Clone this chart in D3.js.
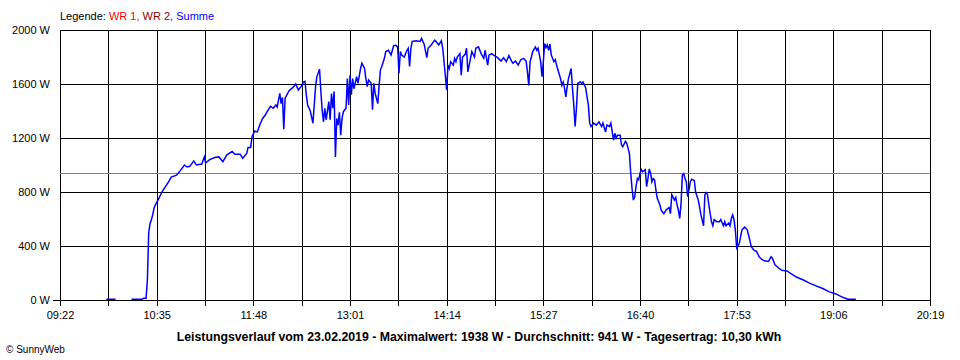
<!DOCTYPE html>
<html>
<head>
<meta charset="utf-8">
<script src="https://cdn.jsdelivr.net/npm/d3@7"></script>
<style>
  body { margin: 0; background: #fff; }
  svg { display: block; font-family: "Liberation Sans", Arial, sans-serif; }
</style>
</head>
<body>
<div class="chart"></div>
<script>
// Leistungsverlauf 23.02.2019 (SunnyWeb)

// time of each reading, null value = no data (gap)
const TIMES = [
  '09:57','10:04','10:10',
  '10:16','10:24','10:25','10:27','10:28','10:29','10:30','10:31','10:32','10:33','10:34','10:36','10:39','10:41','10:44','10:46','10:50','10:53','10:56','10:58',
  '11:00','11:03','11:05','11:08','11:09','11:11','11:12','11:15','11:19','11:22','11:25','11:28','11:32','11:34','11:38','11:40','11:43','11:44','11:46','11:47','11:49','11:51','11:53','11:55','11:57','11:59',
  '12:01','12:03','12:05','12:06','12:08','12:09','12:10','12:11','12:12','12:15','12:18','12:20','12:22','12:24','12:26','12:27','12:28','12:29','12:31','12:33','12:34','12:35','12:36','12:38','12:39',
  '12:40','12:41','12:42','12:43','12:45','12:46','12:47','12:48','12:49','12:50','12:51','12:52','12:53','12:54','12:55','12:56','12:58','12:59',
  '13:00','13:01','13:02','13:03','13:04','13:06','13:07','13:09','13:10','13:12','13:13','13:14','13:15','13:17','13:18','13:19','13:20','13:22','13:23','13:24','13:25','13:27','13:28','13:30','13:32','13:34','13:36','13:37','13:38','13:39',
  '13:40','13:42','13:44','13:45','13:46','13:47','13:48','13:51','13:54','13:55','13:57','13:59',
  '14:00','14:02','14:05','14:06','14:08','14:10','14:11','14:12','14:13','14:14','14:15','14:16','14:17','14:19','14:20','14:21','14:22','14:24','14:25','14:26','14:28','14:29',
  '14:30','14:32','14:33','14:35','14:36','14:38','14:40','14:42','14:43','14:45','14:46','14:48','14:50','14:52','14:53','14:55','14:57','14:59',
  '15:01','15:03','15:04','15:06','15:08','15:10','15:12','15:14','15:15','15:16','15:17','15:18','15:19','15:21','15:22','15:23','15:25','15:26','15:27','15:28','15:29',
  '15:30','15:31','15:32','15:33','15:35','15:36','15:37','15:38','15:40','15:41','15:42','15:43','15:44','15:45','15:46','15:48','15:49','15:50','15:51','15:52','15:53','15:55','15:56','15:57','15:59',
  '16:00','16:01','16:02','16:03','16:05','16:07','16:09','16:11','16:12','16:14','16:15','16:17','16:18','16:20','16:21','16:22','16:23','16:25','16:26','16:27','16:29',
  '16:30','16:31','16:32','16:33','16:34','16:35','16:36','16:37','16:38','16:39','16:40','16:41','16:42','16:44','16:45','16:46','16:47','16:48','16:49','16:50','16:51','16:52','16:53','16:55','16:56','16:58',
  '17:00','17:02','17:03','17:04','17:06','17:07','17:08','17:09','17:10','17:11','17:12','17:13','17:14','17:15','17:16','17:17','17:18','17:19','17:21','17:22','17:23','17:24','17:25','17:26','17:28','17:29',
  '17:30','17:31','17:32','17:33','17:34','17:35','17:36','17:38','17:40','17:41','17:43','17:44','17:45','17:47','17:48','17:49','17:50','17:51','17:52','17:53','17:54','17:55','17:57','17:59',
  '18:01','18:02','18:03','18:04','18:06','18:08','18:10','18:12','18:14','18:17','18:19','18:20','18:22','18:25','18:27','18:31','18:34','18:38','18:43','18:48','18:53','18:58',
  '19:03','19:08','19:13','19:17','19:23'
]

// Summe (W)
const WATTS = [
  5,5,null,
  5,5,13,13,150,500,565,595,630,680,705,740,800,830,875,910,925,960,1000,985,
  990,1030,1000,1005,1005,1060,1015,1040,1055,1060,1025,1075,1100,1080,1080,1050,1085,1130,1130,1210,1250,1245,1300,1345,1370,1405,
  1435,1420,1445,1430,1530,1455,1500,1265,1495,1550,1575,1600,1555,1580,1615,1620,1520,1445,1400,1310,1445,1580,1655,1710,1545,
  1405,1320,1420,1335,1470,1335,1530,1420,1545,1060,1345,1295,1390,1220,1345,1395,1420,1640,
  1445,1665,1520,1640,1565,1655,1605,1715,1755,1715,1640,1580,1630,1605,1410,1605,1530,1455,1590,1705,1730,1790,1840,1850,1815,1885,1885,1870,1680,1840,
  1815,1800,1850,1865,1730,1865,1915,1920,1915,1938,1895,1795,
  1865,1885,1925,1915,1890,1920,1865,1765,1665,1555,1740,1715,1765,1740,1790,1765,1800,1825,1665,1800,1820,1865,
  1690,1790,1840,1800,1865,1875,1825,1790,1850,1740,1815,1825,1810,1800,1790,1770,1795,1765,
  1810,1770,1755,1770,1740,1780,1790,1770,1690,1590,1765,1800,1840,1875,1850,1865,1765,1655,1765,1900,1870,
  1890,1850,1895,1815,1765,1780,1740,1705,1640,1590,1615,1570,1505,1580,1640,1715,1570,1445,1285,1420,1605,1615,1605,1615,1570,
  1505,1445,1310,1285,1310,1295,1320,1285,1310,1245,1295,1285,1310,1185,1235,1200,1220,1220,1150,1135,1175,
  1160,1125,1085,940,825,740,765,840,900,890,940,965,950,965,840,900,970,940,875,900,890,815,755,705,665,640,
  670,685,640,780,740,760,705,665,605,715,925,935,900,875,765,815,875,895,885,800,770,740,690,630,550,780,
  795,780,705,640,580,550,595,580,580,595,550,580,550,570,550,605,630,595,520,385,400,420,520,540,
  520,480,440,395,370,360,320,300,290,285,320,310,260,235,220,215,195,170,150,125,105,85,
  60,45,20,5,5
]

const X_LABELS = ['09:22','10:35','11:48','13:01','14:14','15:27','16:40','17:53','19:06','20:19']
const Y_TICKS = [0, 400, 800, 1200, 1600, 2000]
const AVERAGE = 941
const LEGEND = [
  { text: 'Legende: ', color: '#000000' },
  { text: 'WR 1, ', color: '#ff0000' },
  { text: 'WR 2, ', color: '#8b0000' },
  { text: 'Summe', color: '#0000ff' },
]
const TITLE = 'Leistungsverlauf vom 23.02.2019 - Maximalwert: 1938 W - Durchschnitt: 941 W - Tagesertrag: 10,30 kWh'

const svgWidth = 960
const svgHeight = 360
const margin = { top: 30, right: 30, bottom: 60, left: 60 }
const width = svgWidth - margin.left - margin.right
const height = svgHeight - margin.top - margin.bottom

const parse = d3.timeParse('%H:%M')
const data = TIMES.map((t, i) => ({ t: parse(t), w: WATTS[i] }))

// grid every 36.5 min: labelled ticks plus the half-way points
const labelTimes = X_LABELS.map(parse)
const gridTimes = []
labelTimes.forEach((t, i) => {
  gridTimes.push(t)
  if (i < labelTimes.length - 1) gridTimes.push(new Date((+t + +labelTimes[i + 1]) / 2))
})

const xScale = d3.scaleTime()
  .domain([labelTimes[0], labelTimes[labelTimes.length - 1]])
  .range([0, width])
const yScale = d3.scaleLinear()
  .domain([0, 2000])
  .range([height, 0])

const crisp = v => Math.round(v) + 0.5

const svg = d3.select('.chart')
  .append('svg')
  .attr('width', svgWidth)
  .attr('height', svgHeight)

const chartGroup = svg.append('g')
  .attr('transform', `translate(${margin.left}, ${margin.top})`)

// vertical grid, with the small ticks below the axis
chartGroup.selectAll('.vgrid')
  .data(gridTimes)
  .enter()
  .append('line')
  .attr('x1', d => crisp(xScale(d)))
  .attr('x2', d => crisp(xScale(d)))
  .attr('y1', 0)
  .attr('y2', height + 6)
  .attr('stroke', '#000')
  .attr('stroke-width', 1)
  .attr('shape-rendering', 'crispEdges')

// horizontal grid
chartGroup.selectAll('.hgrid')
  .data(Y_TICKS)
  .enter()
  .append('line')
  .attr('x1', d => d === 0 ? -7 : 0)
  .attr('x2', width + 1)
  .attr('y1', d => crisp(yScale(d)))
  .attr('y2', d => crisp(yScale(d)))
  .attr('stroke', '#000')
  .attr('stroke-width', 1)
  .attr('shape-rendering', 'crispEdges')

// average line
chartGroup.append('line')
  .attr('x1', 0)
  .attr('x2', width)
  .attr('y1', crisp(yScale(AVERAGE)))
  .attr('y2', crisp(yScale(AVERAGE)))
  .attr('stroke', '#808080')
  .attr('stroke-width', 1)
  .attr('shape-rendering', 'crispEdges')

// axes (labels only, lines drawn above)
const xAxis = chartGroup.append('g')
  .attr('transform', `translate(0, ${height})`)
  .call(d3.axisBottom(xScale).tickValues(labelTimes).tickSize(0).tickPadding(11)
    .tickFormat(d3.timeFormat('%H:%M')))
xAxis.select('.domain').remove()

const yAxis = chartGroup.append('g')
  .call(d3.axisLeft(yScale).tickValues(Y_TICKS).tickSize(0).tickPadding(10)
    .tickFormat(d => d + ' W'))
yAxis.select('.domain').remove()

svg.selectAll('.tick text')
  .attr('font-family', '"Liberation Sans", Arial, sans-serif')
  .attr('font-size', '11px')
  .attr('fill', '#000')

// Summe line
const line = d3.line()
  .defined(d => d.w != null)
  .x(d => xScale(d.t))
  .y(d => yScale(d.w))

chartGroup.append('path')
  .datum(data)
  .attr('d', line)
  .attr('fill', 'none')
  .attr('stroke', '#0000ff')
  .attr('stroke-width', 1.5)

// legend
const legend = svg.append('text')
  .attr('x', margin.left)
  .attr('y', 20)
  .attr('font-size', '11px')
LEGEND.forEach(l => {
  legend.append('tspan').attr('fill', l.color).text(l.text)
})

// title
svg.append('text')
  .attr('x', 479)
  .attr('y', 341)
  .attr('text-anchor', 'middle')
  .attr('font-size', '12.3px')
  .attr('font-weight', 'bold')
  .text(TITLE)

svg.append('text')
  .attr('x', 6)
  .attr('y', 353)
  .attr('font-size', '10px')
  .text('\u00a9 SunnyWeb')
</script>
</body>
</html>
